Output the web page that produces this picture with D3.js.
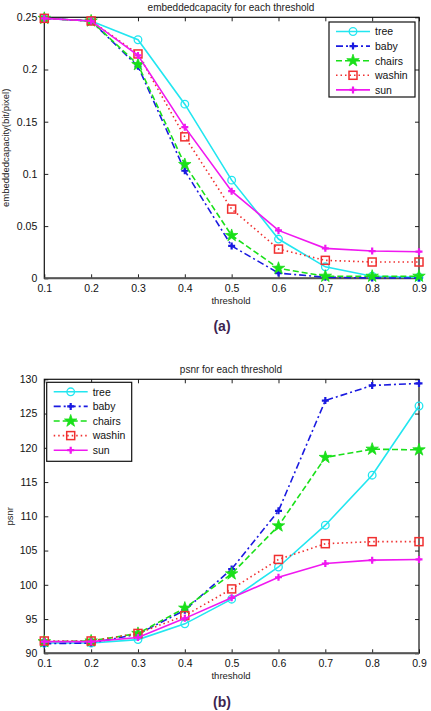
<!DOCTYPE html>
<html><head><meta charset="utf-8">
<script src="https://cdn.jsdelivr.net/npm/d3@7"></script>
<style>body{margin:0;background:#fff}svg{display:block}text{font-family:"Liberation Sans",Arial,sans-serif}</style>
</head><body>
<svg id="c" width="431" height="711"></svg>
<script>
const thresholds = [0.1,0.2,0.3,0.4,0.5,0.6,0.7,0.8,0.9];
const seriesNames = ["tree","baby","chairs","washin","sun"];
const capTree   = [0.249,0.2465,0.2285,0.1668,0.094,0.0376,0.011,0.002,0.001];
const capBaby   = [0.249,0.2465,0.203,0.103,0.031,0.005,0.001,0.0003,0.0002];
const capChairs = [0.249,0.2465,0.2047,0.109,0.041,0.0096,0.002,0.002,0.002];
const capWashin = [0.249,0.2465,0.2149,0.1355,0.0663,0.028,0.0172,0.0156,0.0156];
const capSun    = [0.249,0.2465,0.2135,0.1448,0.0835,0.0459,0.0287,0.0261,0.0255];
const psnrTree   = [91.5,91.5,92.0,94.3,97.9,102.6,108.7,116.0,126.1];
const psnrBaby   = [91.4,91.5,92.8,96.3,102.3,110.8,126.9,129.1,129.4];
const psnrChairs = [91.7,91.8,92.9,96.6,101.6,108.6,118.6,119.8,119.7];
const psnrWashin = [91.8,91.8,92.9,95.5,99.4,103.7,106.0,106.3,106.3];
const psnrSun    = [91.7,91.7,92.3,95.1,98.1,101.1,103.1,103.6,103.7];
const xTicks = [0.1,0.2,0.3,0.4,0.5,0.6,0.7,0.8,0.9];
const capTicks = [0,0.05,0.1,0.15,0.2,0.25];
const psnrTicks = [90,95,100,105,110,115,120,125,130];

const styles = {
  tree:{color:"#22e6f0",dash:null,marker:"circle"},
  baby:{color:"#1a1ae0",dash:"7,3,2,3",marker:"plus"},
  chairs:{color:"#19e019",dash:"6,3",marker:"star"},
  washin:{color:"#f03030",dash:"1.5,3",marker:"square"},
  sun:{color:"#f018f0",dash:null,marker:"plus"}
};

const svg = d3.select("#c");

function drawMarker(g, type, color, x, y){
  if(type==="circle"){
    g.append("circle").attr("cx",x).attr("cy",y).attr("r",3.8).attr("fill","none").attr("stroke",color).attr("stroke-width",1.3);
  } else if(type==="square"){
    g.append("rect").attr("x",x-4).attr("y",y-4).attr("width",8).attr("height",8).attr("fill","none").attr("stroke",color).attr("stroke-width",1.5);
  } else if(type==="star"){
    g.append("path").attr("d",d3.symbol().type(d3.symbolStar).size(48)()).attr("transform",`translate(${x},${y})`).attr("fill",color).attr("stroke",color).attr("stroke-width",0.8);
  } else {
    g.append("path").attr("d",`M${x-3.5},${y}L${x+3.5},${y}M${x},${y-3.5}L${x},${y+3.5}`).attr("stroke",color).attr("stroke-width",2.2);
    g.append("circle").attr("cx",x).attr("cy",y).attr("r",1.6).attr("fill",color);
  }
}

function chart(cfg){
  const x = d3.scaleLinear().domain([0.1,0.9]).range([44.3,419]);
  const y = d3.scaleLinear().domain(cfg.domain).range([cfg.bottom,cfg.top]);
  const g = svg.append("g");
  const tl = 4;
  const axB = d3.axisBottom(x).tickValues(xTicks).tickSize(-tl).tickPadding(tl+2).tickFormat(d3.format(".1f"));
  const axT = d3.axisTop(x).tickValues(xTicks).tickSize(-tl).tickFormat("");
  const axL = d3.axisLeft(y).tickValues(cfg.ticks).tickSize(-tl).tickPadding(tl+3).tickFormat(cfg.fmt);
  const axR = d3.axisRight(y).tickValues(cfg.ticks).tickSize(-tl).tickFormat("");
  [[axB,`translate(0,${cfg.bottom})`],[axT,`translate(0,${cfg.top})`],[axL,`translate(44.3,0)`],[axR,`translate(419,0)`]].forEach(([a,t])=>{
    const ag = g.append("g").attr("transform",t).call(a);
    ag.select(".domain").remove();
    ag.selectAll("line").attr("stroke","#222");
    ag.selectAll("text").attr("font-size",10.5).attr("fill","#111").attr("font-family","Liberation Sans, Arial, sans-serif");
  });
  g.append("rect").attr("x",44.3).attr("y",cfg.top).attr("width",419-44.3).attr("height",cfg.bottom-cfg.top)
    .attr("fill","none").attr("stroke","#111").attr("stroke-width",1.2);
  g.append("line").attr("x1",44.3).attr("x2",419).attr("y1",cfg.bottom).attr("y2",cfg.bottom).attr("stroke","#555").attr("stroke-width",2);
  g.append("text").attr("x",231).attr("y",cfg.top-6).attr("text-anchor","middle").attr("font-size",10).attr("fill","#222").text(cfg.title);
  g.append("text").attr("x",231).attr("y",cfg.bottom+26).attr("text-anchor","middle").attr("font-size",9.5).attr("fill","#222").text("threshold");
  g.append("text").attr("transform",`translate(${cfg.ylx},${(cfg.top+cfg.bottom)/2}) rotate(-90)`).attr("text-anchor","middle").attr("font-size",9.5).attr("fill","#222").text(cfg.ylabel);
  const line = d3.line().x((d,i)=>x(thresholds[i])).y(d=>y(d));
  cfg.data.forEach((vals,k)=>{
    const s = styles[seriesNames[k]];
    g.append("path").attr("d",line(vals)).attr("fill","none").attr("stroke",s.color).attr("stroke-width",1.6)
      .attr("stroke-dasharray",s.dash);
    vals.forEach((v,i)=>drawMarker(g,s.marker,s.color,x(thresholds[i]),y(v)));
  });
  const L = cfg.legend;
  const lg = g.append("g");
  lg.append("rect").attr("x",L.x).attr("y",L.y).attr("width",L.w).attr("height",L.h).attr("fill","#fff").attr("stroke","#111").attr("stroke-width",1.2);
  seriesNames.forEach((n,k)=>{
    const s = styles[n];
    const yy = L.y + 9.5 + k*14.6;
    lg.append("line").attr("x1",L.x+7).attr("x2",L.x+41).attr("y1",yy).attr("y2",yy).attr("stroke",s.color).attr("stroke-width",1.6).attr("stroke-dasharray",s.dash);
    drawMarker(lg,s.marker,s.color,L.x+24,yy);
    lg.append("text").attr("x",L.x+46).attr("y",yy+3.8).attr("font-size",10.5).attr("fill","#111").text(n);
  });
}

chart({domain:[0,0.25],top:17.3,bottom:278.3,ticks:capTicks,fmt:d=>d===0?"0":String(d),
  title:"embeddedcapacity for each threshold",ylabel:"embeddedcapacity(bit/pixel)",ylx:9,
  data:[capTree,capBaby,capChairs,capWashin,capSun],legend:{x:329,y:22,w:86,h:75}});
chart({domain:[90,130],top:379.3,bottom:653.3,ticks:psnrTicks,fmt:d=>String(d),
  title:"psnr for each threshold",ylabel:"psnr",ylx:13,
  data:[psnrTree,psnrBaby,psnrChairs,psnrWashin,psnrSun],legend:{x:46.7,y:382.3,w:85,h:79}});

svg.append("text").attr("x",222).attr("y",331).attr("text-anchor","middle").attr("font-family","Liberation Serif, Times New Roman, serif").attr("font-weight","bold").attr("font-size",14).attr("fill","#3d2450").text("(a)");
svg.append("text").attr("x",222).attr("y",707).attr("text-anchor","middle").attr("font-family","Liberation Serif, Times New Roman, serif").attr("font-weight","bold").attr("font-size",14).attr("fill","#3d2450").text("(b)");
</script>
</body></html>
